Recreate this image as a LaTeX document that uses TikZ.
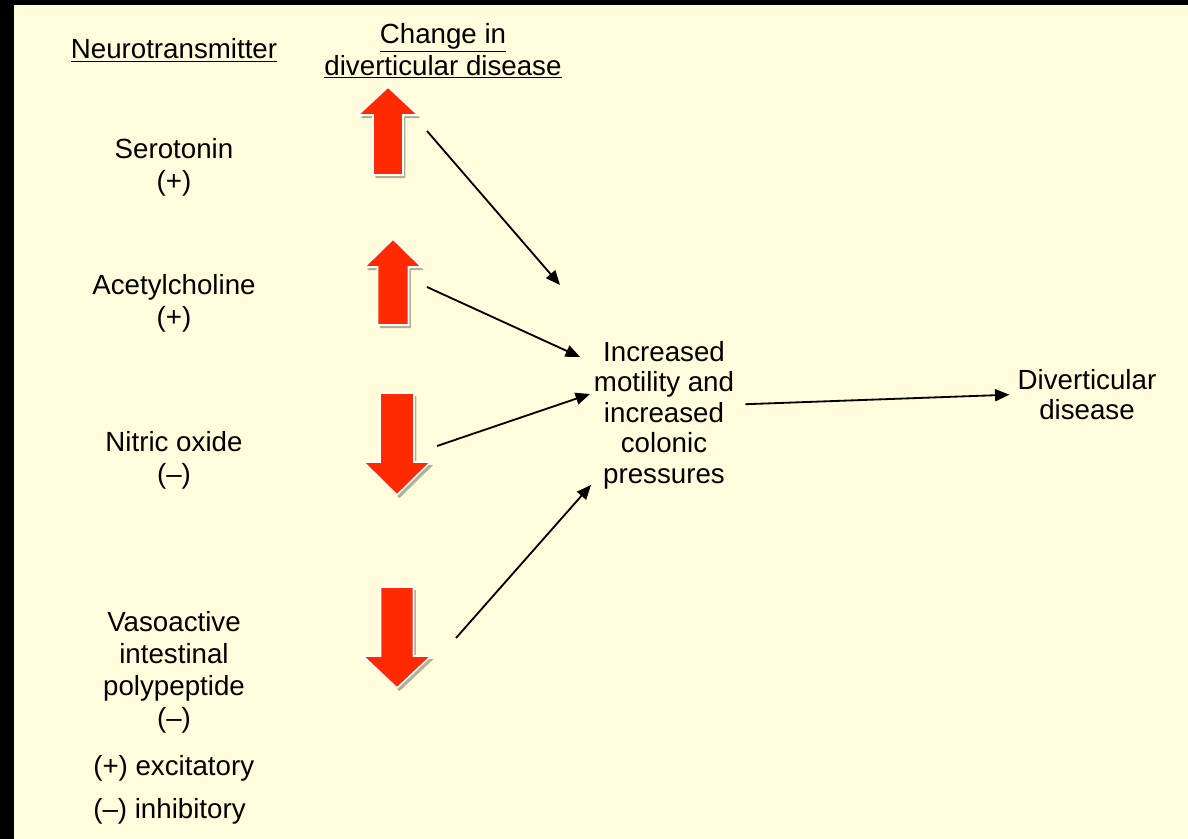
\documentclass[tikz,border=0pt]{standalone}
\usepackage{fontspec}
\setmainfont{Liberation Sans}
\usetikzlibrary{arrows.meta,shadows}
\definecolor{ccream}{HTML}{FFFDDC}
\definecolor{cred}{HTML}{FF2A00}

\begin{document}
\begin{tikzpicture}[x=0.025cm,y=-0.025cm,
  txt/.style={inner sep=0,align=center,font=\fontsize{19.7}{22.8}\selectfont},
  txtc/.style={txt,font=\fontsize{19.7}{21.7}\selectfont},
  conn/.style={-{Triangle[length=0.36cm,width=0.3cm]},line width=1.3pt},
  redarr/.style={fill=cred,draw=white,line width=1.1pt,
    drop shadow={shadow xshift=0.06cm,shadow yshift=-0.08cm,opacity=0.3,fill=black}}]
  % background
  \useasboundingbox (0,0) rectangle (1188,839);
  \fill[black] (0,0) rectangle (1188,839);
  \fill[ccream] (14,5) rectangle (1188,839);
  % headings
  \node[txt,anchor=base] (neuro) at (174,59) {\underline{Neurotransmitter}};
  \node[txt,anchor=north] (chg) at (443,23) {\underline{Change in}\\\underline{diverticular disease}};
  % neurotransmitters
  \node[txt,anchor=north] (ser) at (174,138) {Serotonin\\(+)};
  \node[txt,anchor=north] (ace) at (174,274) {Acetylcholine\\(+)};
  \node[txt,anchor=north] (nit) at (174,431) {Nitric oxide\\(--)};
  \node[txt,anchor=north] (vip) at (174,611) {Vasoactive\\intestinal\\polypeptide\\(--)};
  \node[txt,anchor=base west] (exc) at (93,775) {(+) excitatory};
  \node[txt,anchor=base west] (inh) at (93,818) {(--) inhibitory};
  % effects
  \node[txtc,anchor=north] (press) at (664,341) {Increased\\motility and\\increased\\colonic\\pressures};
  \node[txtc,anchor=north] (dd) at (1087,369) {Diverticular\\disease};
  % red up/down arrows
  \foreach \cx/\tip/\hb/\tail/\hh/\sh in {388/87/115/175/30/15,393/239/267/325/28.5/15.5,
      397/495/462/393/33.5/17,397/688/656/587/34/16.5}
    \path[redarr] (\cx,\tip) -- (\cx+\hh,\hb) -- (\cx+\sh,\hb) -- (\cx+\sh,\tail)
      -- (\cx-\sh,\tail) -- (\cx-\sh,\hb) -- (\cx-\hh,\hb) -- cycle;
  % connectors
  \coordinate (ser-out) at (427,131);
  \coordinate (ser-in) at (560,285);
  \coordinate (ace-out) at (427,287);
  \coordinate (ace-in) at (580,357);
  \coordinate (nit-out) at (437,446);
  \coordinate (nit-in) at (590,394);
  \coordinate (vip-out) at (456,638);
  \coordinate (vip-in) at (591,485);
  \foreach \n in {ser,ace,nit,vip}
    \draw[conn] (\n-out) -- (\n-in);
  \draw[conn] ([shift={(11,-11)}]press.east) -- ([shift={(-8,0)}]dd.west);
\end{tikzpicture}
\end{document}
